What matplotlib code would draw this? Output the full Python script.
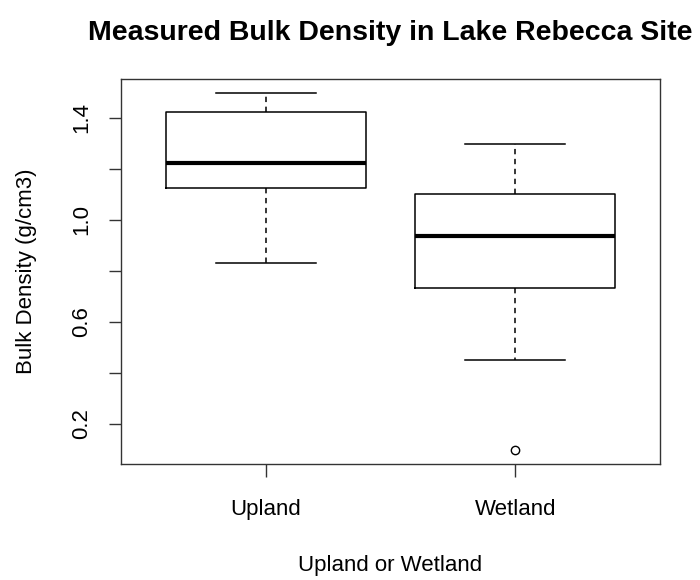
import matplotlib
matplotlib.use("Agg")
import matplotlib.pyplot as plt

plt.rcParams['font.family'] = ['Liberation Sans', 'DejaVu Sans']

# Summary statistics for bulk density by site type (g/cm3)
sites = ["Upland", "Wetland"]
lower_whisker = [0.832, 0.449]
first_quartile = [1.125, 0.733]
medians = [1.223, 0.937]
third_quartile = [1.421, 1.100]
upper_whisker = [1.496, 1.298]
outliers = [[], [0.097]]

yticks = [0.2, 0.4, 0.6, 0.8, 1.0, 1.2, 1.4]
ytick_labels = ["0.2", "", "0.6", "", "1.0", "", "1.4"]

stats = []
for i, name in enumerate(sites):
    stats.append({
        "label": name,
        "whislo": lower_whisker[i],
        "q1": first_quartile[i],
        "med": medians[i],
        "q3": third_quartile[i],
        "whishi": upper_whisker[i],
        "fliers": outliers[i],
    })

fig = plt.figure(figsize=(7, 5.8), dpi=100)
ax = fig.add_axes([0.1729, 0.1995, 0.77, 0.6643])

ax.bxp(stats, positions=[1, 2], widths=0.8, showfliers=True,
       boxprops=dict(color="black", linewidth=1.1),
       medianprops=dict(color="black", linewidth=3.0, solid_capstyle="butt"),
       whiskerprops=dict(color="black", linewidth=1.1, linestyle=(0, (3.5, 3))),
       capprops=dict(color="black", linewidth=1.1),
       capwidths=0.4,
       flierprops=dict(marker="o", markerfacecolor="none",
                       markeredgecolor="black", markersize=6, markeredgewidth=1.0))

# axis ranges padded by 4% like base R graphics
all_vals = lower_whisker + upper_whisker + [v for f in outliers for v in f]
lo, hi = min(all_vals), max(all_vals)
pad = 0.04 * (hi - lo)
ax.set_ylim(lo - pad, hi + pad)
ax.set_xlim(0.42, 2.58)

ax.set_yticks(yticks)
ax.set_yticklabels(ytick_labels, rotation=90, va="center")
ax.set_xticks([1, 2])
ax.set_xticklabels(sites)

ax.tick_params(axis="both", direction="out", length=9, width=1.0,
               labelsize=16, color="#333333")
ax.tick_params(axis="y", pad=12)
ax.tick_params(axis="x", pad=16)
for s in ax.spines.values():
    s.set_linewidth(1.0)
    s.set_color("#333333")

ax.set_title("Measured Bulk Density in Lake Rebecca Site",
             fontsize=20.5, fontweight="bold", pad=28)
ax.set_xlabel("Upland or Wetland", fontsize=16, labelpad=25.5)
ax.set_ylabel("Bulk Density (g/cm3)", fontsize=16, labelpad=24.5)

fig.savefig("out.png", dpi=100, facecolor="white")
